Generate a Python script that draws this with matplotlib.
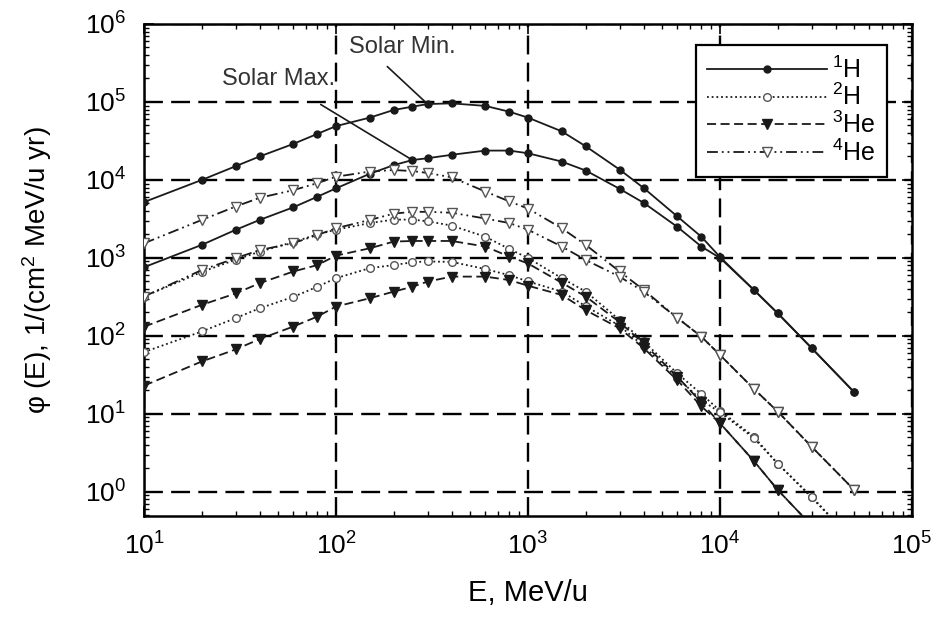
import matplotlib
matplotlib.use('Agg')
import matplotlib.pyplot as plt
from matplotlib.ticker import LogLocator, NullFormatter

plt.rcParams['font.family'] = ['Liberation Sans', 'DejaVu Sans']
plt.rcParams['mathtext.default'] = 'regular'

# energies of the plotted points, MeV/u
E = [10, 20, 30, 40, 60, 80, 100, 150, 200, 250, 300, 400, 600, 800,
     1000, 1500, 2000, 3000, 4000, 6000, 8000, 10000, 15000, 20000, 30000, 50000]

# fluxes (solar min / solar max)
h1_min = [5200, 10000, 15000, 20000, 29000, 39000, 49000, 63000, 79000, 87000, 94000, 96000, 89000, 75000,
          63000, 42000, 27000, 13600, 7900, 3400, 1870, 1030, 390, 195, 70, 19]
h1_max = [760, 1470, 2290, 3070, 4460, 6100, 7800, 12000, 15500, 18000, 19000, 21000, 23800, 23800,
          22000, 17200, 13200, 7700, 5100, 2500, 1400, 1000, 390, 195, 70, 19]
h2_min = [320, 660, 950, 1200, 1600, 2000, 2300, 2800, 3100, 3100, 2950, 2600, 1870, 1300,
          1000, 550, 370, 160, 85, 33, 18, 11, 5.1, 2.3, 0.87, 0.23]
h2_max = [62, 114, 169, 226, 317, 427, 550, 740, 810, 880, 900, 890, 720, 600,
          500, 370, 240, 135, 74, 29, 15, 10.5, 4.9, 2.3, 0.85, 0.23]
he3_min = [131, 250, 350, 474, 670, 810, 1070, 1330, 1620, 1650, 1650, 1650, 1400, 1040,
           850, 480, 320, 150, 80, 30, 14, 7.6, 2.5, 1.06, 0.37, 0.1]
he3_max = [23, 47, 67, 91, 132, 177, 238, 304, 370, 427, 497, 576, 576, 520,
           440, 335, 214, 125, 70, 27, 12.5, 7.6, 2.5, 1.06, 0.37, 0.1]
he4_min = [1540, 3070, 4560, 5900, 7400, 9100, 11000, 12800, 13400, 13000, 12300, 10800, 7100, 5300,
           4300, 2400, 1470, 670, 390, 170, 98, 57, 21, 10.7, 3.8, 1.06]
he4_max = [320, 700, 990, 1260, 1550, 1970, 2400, 3070, 3700, 3900, 3900, 3800, 3200, 2800,
           2300, 1400, 940, 576, 370, 170, 98, 57, 21, 10.7, 3.8, 1.06]

labels = ['$^1$H', '$^2$H', '$^3$He', '$^4$He']
xdecades = [1, 2, 3, 4, 5]
ydecades = [0, 1, 2, 3, 4, 5, 6]

fig = plt.figure(figsize=(9.46, 6.28), dpi=100)
ax = fig.add_axes([0.1522, 0.1783, 0.8118, 0.7835])

ln = '#1a1a1a'
gr = '#555555'
# line style, marker, marker face, marker edge, marker size
sty = [
    ('-', 'o', ln, ln, 5),
    ((0, (1, 1.6)), 'o', 'white', gr, 5.5),
    ((0, (5, 2.5)), 'v', ln, ln, 6.5),
    ((0, (6, 2.2, 1, 2.2, 1, 2.2)), 'v', 'white', gr, 6.5),
]
pairs = [(h1_min, h1_max), (h2_min, h2_max), (he3_min, he3_max), (he4_min, he4_max)]

for k in range(4):
    ls, mk, mf, me, ms = sty[k]
    for j in range(2):
        ax.plot(E, pairs[k][j], ls=ls, color=ln, lw=1.3, marker=mk, ms=ms,
                mfc=mf, mec=me, mew=1.0, label=labels[k] if j == 0 else None, zorder=3)

ax.set_xscale('log')
ax.set_yscale('log')
ax.set_xlim(10, 1e5)
ax.set_ylim(0.49, 1e6)
ax.set_xticks([10.0 ** d for d in xdecades])
ax.set_yticks([10.0 ** d for d in ydecades])
ax.xaxis.set_minor_locator(LogLocator(base=10, subs=range(2, 10), numticks=20))
ax.yaxis.set_minor_locator(LogLocator(base=10, subs=range(2, 10), numticks=20))
ax.xaxis.set_minor_formatter(NullFormatter())
ax.yaxis.set_minor_formatter(NullFormatter())

ax.grid(True, which='major', color='black', ls=(0, (8, 3.5)), lw=1.7, zorder=1)
ax.tick_params(which='both', direction='in', top=True, right=True, labelsize=19)
ax.tick_params(which='major', length=7, width=1.2)
ax.tick_params(which='minor', length=3.5, width=1.0)
ax.tick_params(axis='x', pad=12)
ax.tick_params(axis='y', pad=13)
for s in ax.spines.values():
    s.set_linewidth(1.8)

ax.set_xlabel('E, MeV/u', fontsize=21, labelpad=14)
ax.set_ylabel('φ (E), 1/(cm$^2$ MeV/u yr)', fontsize=20, labelpad=22)

# solar min / max labels pointing at the curves
ax.annotate('', xy=(E[10], h1_min[10]), xytext=(-29, 27), textcoords='offset points',
            arrowprops=dict(arrowstyle='-', color=ln, lw=1.2, shrinkA=0, shrinkB=2))
ax.annotate('Solar Min.', xy=(E[10], h1_min[10]), xytext=(-18, 41), textcoords='offset points',
            ha='center', va='center', fontsize=17, color='#333333')
ax.annotate('', xy=(E[9], h1_max[9]), xytext=(-66, 40), textcoords='offset points',
            arrowprops=dict(arrowstyle='-', color=ln, lw=1.2, shrinkA=0, shrinkB=2))
ax.annotate('Solar Max.', xy=(E[9], h1_max[9]), xytext=(-96, 58), textcoords='offset points',
            ha='center', va='center', fontsize=17, color='#333333')

leg = ax.legend(loc='upper right', bbox_to_anchor=(0.967, 0.957), borderaxespad=0,
                fontsize=18, handlelength=4.8, handletextpad=0.2, labelspacing=0.05,
                fancybox=False, framealpha=1, edgecolor='black', borderpad=0.45)
leg.get_frame().set_linewidth(1.6)
leg.set_zorder(5)

fig.savefig('out.png', dpi=100)
